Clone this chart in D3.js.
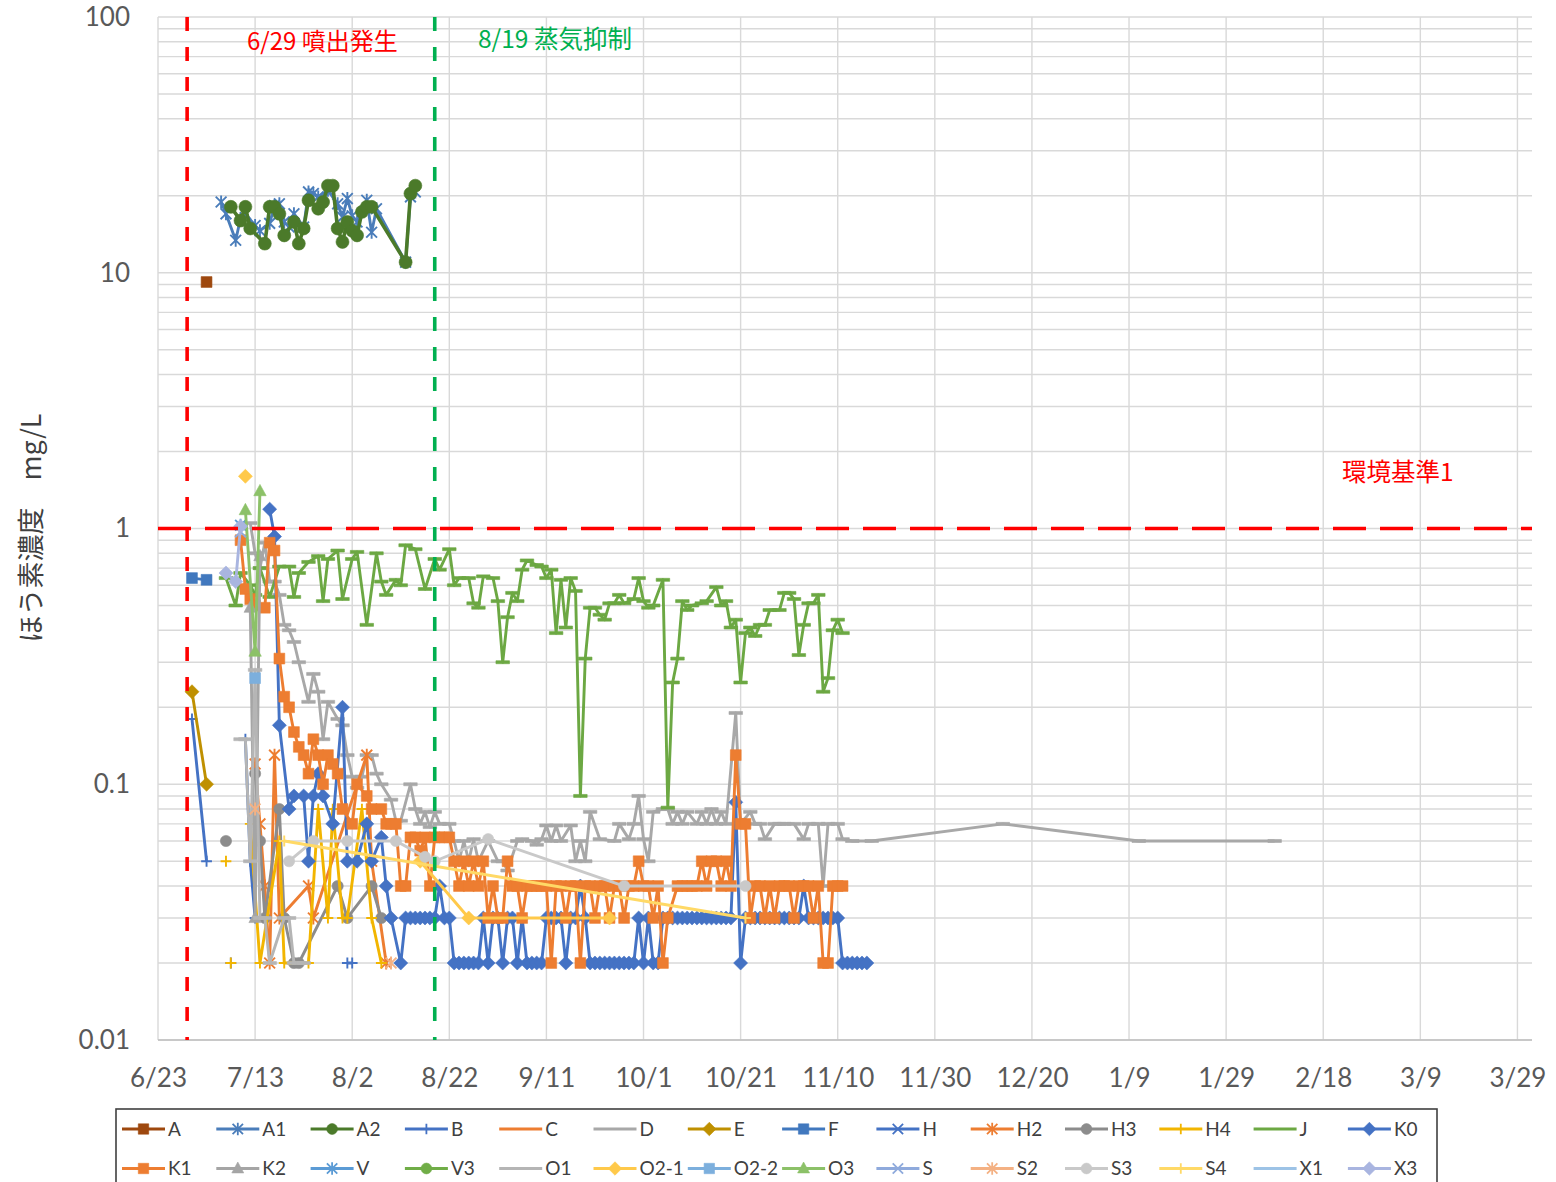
<!DOCTYPE html>
<html><head><meta charset="utf-8">
<script src="https://cdn.jsdelivr.net/npm/d3@7"></script>
<style>body{margin:0;background:#fff}svg{display:block}</style>
</head><body>
<svg id="chart" width="1556" height="1182"></svg>
<script>
// ---------------- data ----------------
const startLabel = "6/23";                 // day 0 of the series below
const xTickLabels = ["6/23","7/13","8/2","8/22","9/11","10/1","10/21","11/10","11/30","12/20","1/9","1/29","2/18","3/9","3/29"];
const yTickValues = [0.01, 0.1, 1, 10, 100];
const yTickLabels = ["0.01","0.1","1","10","100"];
const eruptionLabel = "6/29", eruptionText = "6/29 噴出発生";
const suppressLabel = "8/19", suppressText = "8/19 蒸気抑制";
const envStandard = 1, envText = "環境基準1";
const yTitle = "ほう素濃度　mg/L";
const seriesNames = ["A","A1","A2","B","C","D","E","F","H","H2","H3","H4","J","K0",
                     "K1","K2","V","V3","O1","O2-1","O2-2","O3","S","S2","S3","S4","X1","X3"];

// [days since 6/23, mg/L]; null = gap
const sA  = [[10,9.2]];
const sA1 = [[13,18.9],[14,17.0],[16,13.4],[17,16.3],[18,17.0],[20,15.3],[21,14.6],[23,15.6],[24,18.3],[25,18.6],[26,15.8],[27,15.1],[28,17.0],[30,15.1],[31,20.7],[32,20.4],[33,19.8],[35,21.0],[37,18.6],[38,16.5],[39,19.5],[40,16.7],[41,15.8],[43,19.2],[44,14.4],[45,17.8],[51,11.0],[52,19.8],[53,20.7]];
const sA2 = [[15,18.1],[17,16.0],[18,18.1],[19,14.9],[22,13.0],[23,18.1],[24,18.1],[25,17.0],[26,14.0],[28,15.8],[29,13.0],[30,14.9],[31,19.2],[33,17.8],[34,18.9],[35,21.9],[36,21.9],[37,14.9],[38,13.2],[39,15.8],[40,14.6],[41,14.0],[42,17.3],[43,18.1],[44,18.1],[51,11.0],[52,20.4],[53,21.9]];
const sB  = [[7,0.18],[10,0.05],null,[15,0.02],null,[18,0.15],[19,0.05],[20,0.03],null,[39,0.02],[40,0.02]];
const sC  = [];
const sD  = [[19,1.05],[20,0.80],[21,0.70],[22,0.88],[23,0.62],[24,0.62],[25,0.55],[26,0.42],[27,0.40],[28,0.36],[29,0.30],[31,0.21],[32,0.27],[33,0.23],[34,0.15],[35,0.21],[37,0.18],[38,0.17],[39,0.13],[40,0.107],[41,0.097],[42,0.107],[43,0.13],[44,0.13],[45,0.11],[46,0.10],[48,0.087],[49,0.072],[50,0.072],[52,0.10],[53,0.08],[54,0.07],[55,0.078],[56,0.068],[57,0.078],[58,0.07],[60,0.07],[61,0.06],[62,0.05],[63,0.06],[64,0.05],[65,0.061],[66,0.05],[68,0.06],[70,0.05],[71,0.05],[72,0.046],[74,0.06],[75,0.061],[77,0.06],[78,0.058],[79,0.061],[80,0.069],[81,0.06],[82,0.069],[83,0.06],[85,0.069],[86,0.05],[87,0.06],[88,0.05],[89,0.078],[91,0.061],[94,0.06],[95,0.07],[97,0.061],[98,0.07],[99,0.09],[100,0.061],[101,0.05],[102,0.078],[104,0.08],[105,0.08],[106,0.07],[107,0.078],[108,0.07],[109,0.078],[111,0.07],[112,0.078],[113,0.07],[114,0.08],[115,0.07],[116,0.078],[117,0.07],[119,0.19],[120,0.07],[122,0.078],[123,0.07],[124,0.07],[125,0.061],[127,0.07],[128,0.07],[129,0.07],[131,0.07],[133,0.061],[134,0.07],[136,0.07],[137,0.04],[138,0.07],[140,0.07],[141,0.061],[143,0.06],[147,0.06],[174,0.07],[202,0.06],[230,0.06]];
const sE  = [[7,0.23],[10,0.10]];
const sF  = [[7,0.64],[10,0.63]];
const sH  = [];
const sH2 = [[20,0.12],[21,0.07],[22,0.04],[23,0.02],[24,0.13],[25,0.03],[31,0.04],[32,0.03],[43,0.13],[44,0.05],[47,0.02]];
const sH3 = [[14,0.06],null,[20,0.11],[21,0.06],[22,0.03],[25,0.08],[26,0.03],[28,0.02],[29,0.02],[37,0.04],[39,0.03],[44,0.04],[46,0.03]];
const sH4 = [[14,0.05],null,[15,0.02],null,[19,0.07],[21,0.02],[25,0.06],[26,0.02],[31,0.02],[33,0.08],[35,0.03],[36,0.08],[38,0.03],[39,0.03],[42,0.08],[44,0.03],[46,0.02]];
const sJ  = [[14,0.64],[16,0.50],[17,0.67],[19,0.60],[20,0.55],[21,0.70],[23,0.54],[25,0.71],[27,0.71],[28,0.54],[29,0.67],[31,0.74],[33,0.78],[34,0.52],[35,0.76],[37,0.82],[38,0.53],[40,0.76],[41,0.81],[43,0.42],[45,0.80],[46,0.62],[47,0.55],[49,0.63],[50,0.60],[51,0.86],[53,0.83],[55,0.58],[57,0.76],[58,0.69],[60,0.83],[61,0.60],[62,0.64],[64,0.64],[65,0.51],[66,0.49],[67,0.65],[69,0.64],[70,0.52],[71,0.30],[72,0.45],[73,0.56],[74,0.52],[75,0.69],[76,0.75],[78,0.72],[79,0.71],[80,0.64],[81,0.69],[82,0.39],[83,0.63],[84,0.41],[85,0.64],[86,0.57],[87,0.09],[88,0.31],[89,0.49],[90,0.49],[91,0.46],[92,0.44],[93,0.51],[94,0.51],[95,0.55],[96,0.51],[98,0.53],[99,0.64],[100,0.52],[101,0.49],[102,0.50],[104,0.63],[105,0.081],[106,0.25],[107,0.31],[108,0.52],[109,0.48],[110,0.50],[112,0.51],[113,0.52],[115,0.59],[116,0.50],[117,0.52],[118,0.41],[119,0.44],[120,0.25],[121,0.39],[122,0.41],[123,0.38],[124,0.42],[125,0.42],[126,0.48],[128,0.48],[129,0.56],[130,0.56],[131,0.53],[132,0.32],[133,0.42],[134,0.51],[135,0.51],[136,0.55],[137,0.23],[138,0.26],[139,0.40],[140,0.44],[141,0.39]];
const sK0 = [[23,1.19],[24,0.93],[25,0.17],[27,0.08],[28,0.09],[30,0.09],[31,0.05],[32,0.09],[33,0.11],[34,0.09],[36,0.07],[38,0.2],[39,0.05],[41,0.05],[43,0.07],[44,0.05],[46,0.062],[47,0.04],[48,0.03],[50,0.02],[51,0.03],[52,0.03],[53,0.03],[54,0.03],[55,0.03],[56,0.03],[57,0.03],[58,0.04],[59,0.03],[60,0.03],[61,0.02],[62,0.02],[63,0.02],[64,0.02],[65,0.02],[66,0.02],[67,0.03],[68,0.02],[69,0.03],[70,0.03],[71,0.02],[72,0.03],[73,0.03],[74,0.02],[75,0.03],[76,0.02],[77,0.02],[78,0.02],[79,0.02],[80,0.03],[81,0.03],[82,0.03],[83,0.03],[84,0.02],[85,0.03],[86,0.03],[87,0.04],[88,0.03],[89,0.02],[90,0.02],[91,0.02],[92,0.02],[93,0.02],[94,0.02],[95,0.02],[96,0.02],[97,0.02],[98,0.02],[99,0.03],[100,0.02],[101,0.03],[102,0.02],[103,0.02],[104,0.03],[105,0.03],[106,0.03],[107,0.03],[108,0.03],[109,0.03],[110,0.03],[111,0.03],[112,0.03],[113,0.03],[114,0.03],[115,0.03],[116,0.03],[117,0.03],[118,0.03],[119,0.085],[120,0.02],[121,0.03],[122,0.03],[123,0.03],[124,0.03],[125,0.03],[126,0.03],[127,0.03],[128,0.03],[129,0.03],[130,0.03],[131,0.03],[132,0.03],[133,0.04],[134,0.03],[135,0.03],[136,0.03],[137,0.03],[138,0.03],[139,0.03],[140,0.03],[141,0.02],[142,0.02],[143,0.02],[144,0.02],[145,0.02],[146,0.02]];
const sK1 = [[17,0.90],[18,0.58],[19,0.53],[20,0.50],[22,0.49],[23,0.88],[24,0.82],[25,0.31],[26,0.22],[27,0.20],[28,0.16],[29,0.14],[30,0.13],[31,0.11],[32,0.15],[33,0.13],[34,0.10],[35,0.13],[36,0.12],[37,0.11],[38,0.08],[40,0.07],[41,0.10],[43,0.09],[44,0.08],[46,0.08],[47,0.07],[48,0.07],[49,0.07],[50,0.04],[51,0.04],[52,0.062],[53,0.062],[54,0.055],[55,0.062],[56,0.04],[57,0.062],[58,0.062],[59,0.062],[60,0.062],[61,0.05],[62,0.04],[63,0.05],[64,0.04],[65,0.05],[66,0.04],[67,0.05],[68,0.03],[69,0.04],[70,0.03],[71,0.03],[72,0.05],[73,0.04],[74,0.04],[75,0.03],[76,0.04],[77,0.04],[78,0.04],[79,0.04],[80,0.04],[81,0.02],[82,0.04],[83,0.04],[84,0.03],[85,0.04],[86,0.04],[87,0.02],[88,0.04],[89,0.04],[90,0.03],[91,0.04],[92,0.04],[93,0.03],[94,0.04],[95,0.04],[96,0.03],[97,0.04],[98,0.04],[99,0.05],[100,0.04],[101,0.04],[102,0.03],[103,0.04],[104,0.02],[105,0.03],[107,0.04],[108,0.04],[109,0.04],[110,0.04],[111,0.04],[112,0.05],[113,0.04],[114,0.05],[115,0.05],[116,0.04],[117,0.05],[118,0.04],[119,0.13],[120,0.07],[121,0.07],[122,0.03],[123,0.04],[124,0.04],[125,0.03],[126,0.04],[127,0.03],[128,0.04],[129,0.04],[130,0.04],[131,0.03],[132,0.04],[133,0.04],[134,0.04],[135,0.03],[136,0.04],[137,0.02],[138,0.02],[139,0.04],[140,0.04],[141,0.04]];
const sK2 = [[19,0.49],[20,0.03],[21,0.78]];
const sV  = [[17,1.03]];
const sV3 = [];
const sO1 = [[17,0.15],[18,0.15],[19,0.05],[20,0.28],[21,0.03],[22,0.03],[23,0.02],[26,0.03],[27,0.03],[28,0.02],[29,0.02],[30,0.02]];
const sO21 = [[18,1.6],null,[54,0.05],[64,0.03],[93,0.03]];
const sO22 = [[20,0.26]];
const sO3 = [[18,1.18],[20,0.33],[21,1.4]];
const sS  = [[17,0.97]];
const sS2 = [[20,0.08],null,[48,0.02]];
const sS3 = [[27,0.05],[32,0.06],[39,0.06],[49,0.06],[55,0.052],[57,0.05],[68,0.061],[96,0.04],[121,0.04]];
const sS4 = [[26,0.06],[121,0.03]];
const sX1 = [];
const sX3 = [[14,0.67],[16,0.62],[17,1.02]];

const seriesData = {"A":sA,"A1":sA1,"A2":sA2,"B":sB,"C":sC,"D":sD,"E":sE,"F":sF,"H":sH,"H2":sH2,"H3":sH3,"H4":sH4,"J":sJ,"K0":sK0,
  "K1":sK1,"K2":sK2,"V":sV,"V3":sV3,"O1":sO1,"O2-1":sO21,"O2-2":sO22,"O3":sO3,"S":sS,"S2":sS2,"S3":sS3,"S4":sS4,"X1":sX1,"X3":sX3};

// ---------------- styles ----------------
const seriesStyle = {
  "A":{c:"#9E480E",m:"square"}, "A1":{c:"#4A7DBA",m:"star"}, "A2":{c:"#4B7A2A",m:"circle",w:3.6},
  "B":{c:"#4472C4",m:"plus"}, "C":{c:"#ED7D31",m:"none"}, "D":{c:"#A8A8A8",m:"dash"},
  "E":{c:"#BF9000",m:"diamond"}, "F":{c:"#4178BE",m:"square"}, "H":{c:"#4472C4",m:"x"},
  "H2":{c:"#ED7D31",m:"star"}, "H3":{c:"#8C8C8C",m:"circle"}, "H4":{c:"#F2B500",m:"plus"},
  "J":{c:"#6CA843",m:"dash"}, "K0":{c:"#4472C4",m:"diamond"}, "K1":{c:"#ED7D31",m:"square"},
  "K2":{c:"#A5A5A5",m:"triangle"}, "V":{c:"#5B9BD5",m:"star"}, "V3":{c:"#70AD47",m:"circle"},
  "O1":{c:"#B5B5B5",m:"dash"}, "O2-1":{c:"#FFC94A",m:"diamond"}, "O2-2":{c:"#7CAFDD",m:"square"},
  "O3":{c:"#8CC168",m:"triangle"}, "S":{c:"#8FAADC",m:"x"}, "S2":{c:"#F4B183",m:"star"},
  "S3":{c:"#C9C9C9",m:"circle"}, "S4":{c:"#FFD966",m:"plus"}, "X1":{c:"#9DC3E6",m:"none"},
  "X3":{c:"#A9B5E0",m:"diamond"}
};

// ---------------- helpers ----------------
function parseMD(s){ const [m,d]=s.split("/").map(Number); return new Date(m>=6?2023:2024, m-1, d); }
const start = parseMD(startLabel);
const dayToDate = n => d3.timeDay.offset(start, n);

const svg = d3.select("#chart");
const L = 158, R = 1532, T = 17, B = 1040;
const x = d3.scaleTime().domain([start, d3.timeDay.offset(start, 283)]).range([L, R]);
const y = d3.scaleLog().domain([0.01, 100]).range([B, T]);
const fontLat = "Lato, 'Open Sans', sans-serif";
const fontJP = "'Noto Sans CJK JP', 'Noto Sans', sans-serif";

function markerPath(t, s){
  switch(t){
    case "square": return `M${-s},${-s}h${2*s}v${2*s}h${-2*s}Z`;
    case "diamond": { const r=s*1.3; return `M0,${-r}L${r},0L0,${r}L${-r},0Z`; }
    case "triangle": return `M0,${-s*1.25}L${s*1.15},${s*0.85}L${-s*1.15},${s*0.85}Z`;
    case "circle": return `M${s},0A${s},${s} 0 1,1 ${-s},0A${s},${s} 0 1,1 ${s},0Z`;
    case "plus": return `M${-s},0H${s}M0,${-s}V${s}`;
    case "x": return `M${-s},${-s}L${s},${s}M${-s},${s}L${s},${-s}`;
    case "star": return `M${-s},${-s}L${s},${s}M${-s},${s}L${s},${-s}M0,${-s*1.2}V${s*1.2}`;
    case "dash": return `M${-s*1.3},-1.5h${s*2.6}v3h${-s*2.6}Z`;
  }
  return "";
}
const filled = t => ["square","diamond","triangle","circle","dash"].includes(t);

// ---------------- gridlines ----------------
const grid = svg.append("g");
const minorVals = [];
for (let e=-2; e<2; e++) for (let k=1; k<10; k++) minorVals.push(k*Math.pow(10,e));
minorVals.push(100);
grid.selectAll("line.h").data(minorVals).join("line")
  .attr("x1", L).attr("x2", R).attr("y1", d=>y(d)).attr("y2", d=>y(d))
  .attr("stroke", "#D9D9D9").attr("stroke-width", 1.4);
const xTickDates = xTickLabels.map(parseMD);
grid.selectAll("line.v").data(xTickDates).join("line")
  .attr("x1", d=>x(d)).attr("x2", d=>x(d)).attr("y1", T).attr("y2", B)
  .attr("stroke", "#D9D9D9").attr("stroke-width", 1.4);
svg.append("line").attr("x1", L).attr("x2", R).attr("y1", B).attr("y2", B)
  .attr("stroke", "#BFBFBF").attr("stroke-width", 1.6);

// ---------------- axes ----------------
const xAxis = d3.axisBottom(x).tickValues(xTickDates).tickSize(0).tickPadding(29)
  .tickFormat((d,i)=>xTickLabels[i]);
const gx = svg.append("g").attr("transform", `translate(0,${B})`).call(xAxis);
gx.select(".domain").remove();
gx.selectAll("text").attr("font-family", fontLat).attr("font-size", 26).attr("fill", "#595959");

const yAxis = d3.axisLeft(y).tickValues(yTickValues).tickSize(0).tickPadding(28)
  .tickFormat((d,i)=>yTickLabels[i]);
const gy = svg.append("g").attr("transform", `translate(${L},0)`).call(yAxis);
gy.select(".domain").remove();
gy.selectAll("text").attr("font-family", fontLat).attr("font-size", 26).attr("fill", "#595959");

svg.append("text").attr("transform", "translate(41,528) rotate(-90)")
  .attr("text-anchor", "middle").attr("font-family", fontJP).attr("font-size", 27)
  .attr("fill", "#404040").text(yTitle);

// ---------------- series ----------------
const line = d3.line().defined(d=>d!=null).x(d=>x(dayToDate(d[0]))).y(d=>y(d[1]));
const plot = svg.append("g");
seriesNames.forEach(name=>{
  const data = seriesData[name], st = seriesStyle[name];
  if (!data.length) return;
  const g = plot.append("g");
  g.append("path").attr("d", line(data)).attr("fill","none")
    .attr("stroke", st.c).attr("stroke-width", st.w||2.9).attr("stroke-linejoin","round");
  if (st.m !== "none") {
    const s = st.m==="circle" ? (name==="A2"?6.5:5.6) : st.m==="dash" ? 5.2 : st.m==="square" ? 5.4 : 5.4;
    g.selectAll("path.m").data(data.filter(d=>d!=null)).join("path")
      .attr("transform", d=>`translate(${x(dayToDate(d[0]))},${y(d[1])})`)
      .attr("d", markerPath(st.m, s))
      .attr("fill", filled(st.m)?st.c:"none").attr("stroke", st.c)
      .attr("stroke-width", filled(st.m)?0.6:1.9);
  }
});

// ---------------- reference lines ----------------
svg.append("line").attr("x1", L).attr("x2", R).attr("y1", y(envStandard)).attr("y2", y(envStandard))
  .attr("stroke", "#FF0000").attr("stroke-width", 3.6).attr("stroke-dasharray", "33,14");
[[eruptionLabel,"#FF0000"],[suppressLabel,"#00B050"]].forEach(([lab,c])=>{
  const xx = x(parseMD(lab));
  svg.append("line").attr("x1", xx).attr("x2", xx).attr("y1", T).attr("y2", B)
    .attr("stroke", c).attr("stroke-width", 3.6).attr("stroke-dasharray", "14,16");
});
svg.append("text").attr("x", 247).attr("y", 50).attr("font-family", fontJP).attr("font-size", 24)
  .attr("fill", "#FF0000").text(eruptionText);
svg.append("text").attr("x", 478).attr("y", 48).attr("font-family", fontJP).attr("font-size", 24.5)
  .attr("fill", "#00B050").text(suppressText);
svg.append("text").attr("x", 1342).attr("y", 481).attr("font-family", fontJP).attr("font-size", 24.5)
  .attr("fill", "#FF0000").text(envText);

// ---------------- legend ----------------
const lg = svg.append("g");
lg.append("rect").attr("x", 116).attr("y", 1109).attr("width", 1321).attr("height", 100)
  .attr("fill", "#fff").attr("stroke", "#404040").attr("stroke-width", 1.6);
seriesNames.forEach((name,i)=>{
  const row = Math.floor(i/14), col = i%14;
  const x0 = 122 + col*94.3, yy = 1129 + row*39.5;
  const st = seriesStyle[name];
  const g = lg.append("g");
  g.append("line").attr("x1", x0).attr("x2", x0+43).attr("y1", yy).attr("y2", yy)
    .attr("stroke", st.c).attr("stroke-width", 3);
  if (st.m !== "none" && st.m !== "dash") {
    g.append("path").attr("transform", `translate(${x0+21.5},${yy})`)
      .attr("d", markerPath(st.m, st.m==="circle"?5.4:5.2))
      .attr("fill", filled(st.m)?st.c:"none").attr("stroke", st.c)
      .attr("stroke-width", filled(st.m)?0.6:1.8);
  }
  g.append("text").attr("x", x0+46).attr("y", yy).attr("dy", "0.35em")
    .attr("font-family", fontLat).attr("font-size", 19).attr("fill", "#404040").text(name);
});
</script>
</body></html>
